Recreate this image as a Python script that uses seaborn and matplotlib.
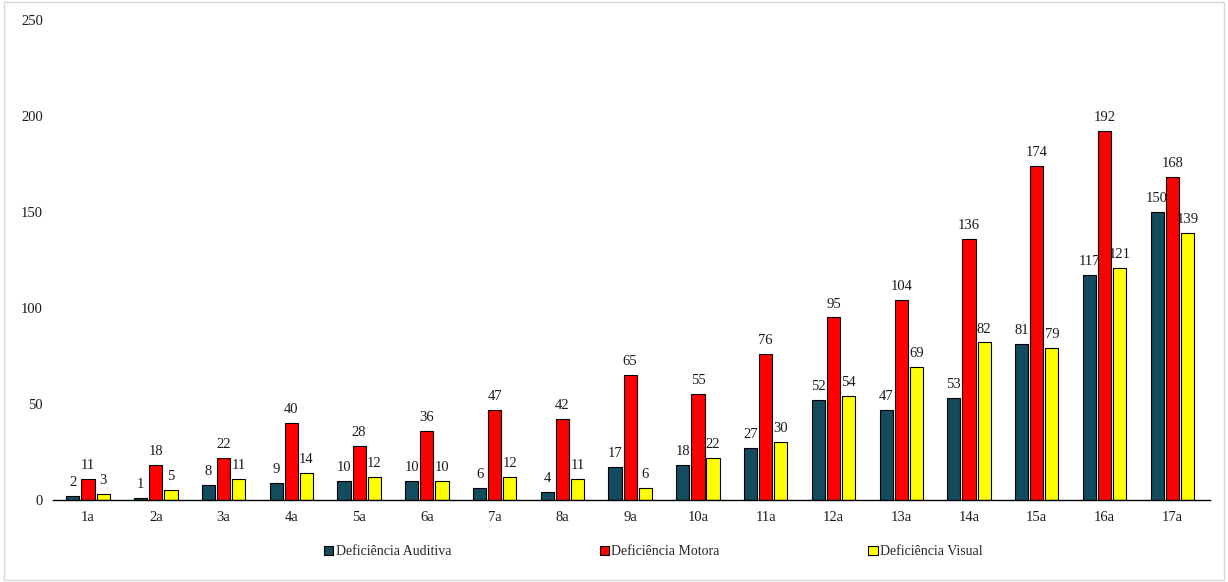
import pandas as pd
import matplotlib.pyplot as plt
import seaborn as sns

# Data
anos = ['1a', '2a', '3a', '4a', '5a', '6a', '7a', '8a', '9a', '10a',
        '11a', '12a', '13a', '14a', '15a', '16a', '17a']
auditiva = [2, 1, 8, 9, 10, 10, 6, 4, 17, 18, 27, 52, 47, 53, 81, 117, 150]
motora = [11, 18, 22, 40, 28, 36, 47, 42, 65, 55, 76, 95, 104, 136, 174, 192, 168]
visual = [3, 5, 11, 14, 12, 10, 12, 11, 6, 22, 30, 54, 69, 82, 79, 121, 139]
series = ['Deficiência Auditiva', 'Deficiência Motora', 'Deficiência Visual']
cores = ['#134b5f', '#ff0000', '#ffff00']

df = pd.DataFrame({'ano': anos * 3,
                   'tipo': [series[0]] * 17 + [series[1]] * 17 + [series[2]] * 17,
                   'valor': auditiva + motora + visual})

sns.set_style('white')
plt.rcParams['font.family'] = ['Liberation Serif', 'DejaVu Serif']

fig = plt.figure(figsize=(12.28, 5.82), dpi=100)
ax = fig.add_axes([0.043, 0.141, 0.942, 0.825])

sns.barplot(data=df, x='ano', y='valor', hue='tipo', palette=cores,
            saturation=1, width=0.67, gap=0.13, edgecolor='black',
            linewidth=0.8, ax=ax, legend=True)

for cont in ax.containers:
    ax.bar_label(cont, padding=5, fontsize=10.5, color='#1a1a1a')

ax.set_ylim(0, 250)
ax.set_yticks(range(0, 251, 50))
ax.set_xlim(-0.52, 16.55)
ax.set_xlabel('')
ax.set_ylabel('')
ax.tick_params(axis='both', length=0, labelsize=10.5, colors='#1a1a1a')
ax.tick_params(axis='y', pad=7)
ax.tick_params(axis='x', pad=8)
for s in ['top', 'right', 'left']:
    ax.spines[s].set_visible(False)
ax.spines['bottom'].set_color('black')
ax.spines['bottom'].set_linewidth(1)

handles, labels = ax.get_legend_handles_labels()
ax.get_legend().remove()
fig.legend(handles, labels, loc='center', bbox_to_anchor=(0.532, 0.052), ncol=3,
           frameon=False, fontsize=10, handlelength=0.7, handleheight=0.7,
           handletextpad=0.15, columnspacing=10.7)

# light frame around the figure
fig.patches.append(plt.Rectangle((0.003, 0.003), 0.994, 0.994, transform=fig.transFigure,
                                 fill=False, edgecolor='#d9d9d9', linewidth=1))

fig.savefig('out.png', dpi=100, facecolor='white')
